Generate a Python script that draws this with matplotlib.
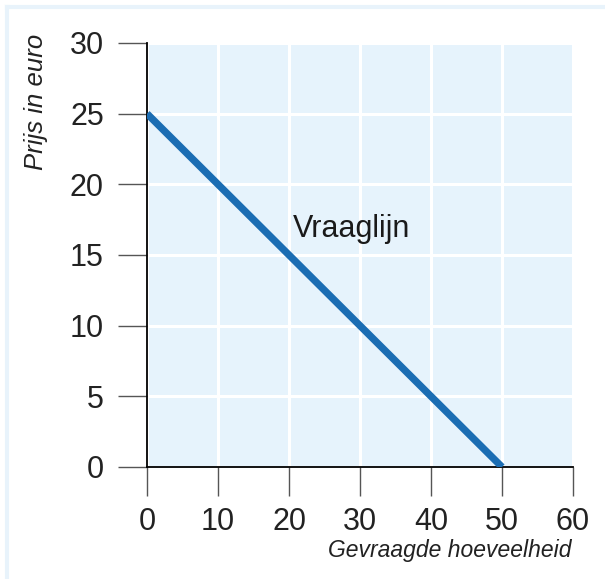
import matplotlib.pyplot as plt
from matplotlib.lines import Line2D

plt.rcParams['font.family'] = ['Liberation Sans', 'DejaVu Sans']

# data
hoeveelheid = [0, 50]
prijs = [25, 0]
x_ticks = [0, 10, 20, 30, 40, 50, 60]
y_ticks = [0, 5, 10, 15, 20, 25, 30]

fig = plt.figure(figsize=(6.05, 5.79), dpi=100)
ax = fig.add_axes([147 / 605, 1 - 467 / 579, 426 / 605, 424 / 579])

ax.set_facecolor('#e6f3fc')
ax.grid(True, color='white', linewidth=2.2)
ax.set_axisbelow(True)

ax.plot(hoeveelheid, prijs, color='#1b6db3', linewidth=5.2, solid_capstyle='butt', zorder=3)
ax.text(20.6, 16.3, 'Vraaglijn', fontsize=22, color='#1a1a1a', ha='left', va='baseline')

ax.set_xlim(0, 60)
ax.set_ylim(0, 30)
ax.set_xticks(x_ticks)
ax.set_yticks(y_ticks)

for side in ['top', 'right']:
    ax.spines[side].set_visible(False)
for side in ['left', 'bottom']:
    ax.spines[side].set_color('black')
    ax.spines[side].set_linewidth(1.3)

ax.tick_params(axis='both', direction='out', length=21, width=1.0, color='#555555',
               labelsize=22, labelcolor='#222222')
ax.tick_params(axis='y', pad=10)
ax.tick_params(axis='x', pad=8)

fig.text(571 / 605, 1 - 557 / 579, 'Gevraagde hoeveelheid', fontsize=16.5, style='italic',
         color='#222222', ha='right', va='baseline')
fig.text(36 / 605, 1 - 34 / 579, 'Prijs in euro', fontsize=18.5, style='italic',
         color='#222222', ha='center', va='top', rotation=90)

# faint frame around the figure
fig.add_artist(Line2D([7 / 605, 7 / 605], [0, 1 - 7 / 579], color='#e8f3fb', linewidth=3,
                      transform=fig.transFigure))
fig.add_artist(Line2D([7 / 605, 1], [1 - 7 / 579, 1 - 7 / 579], color='#e8f3fb', linewidth=3,
                      transform=fig.transFigure))

fig.savefig('out.png', dpi=100)
